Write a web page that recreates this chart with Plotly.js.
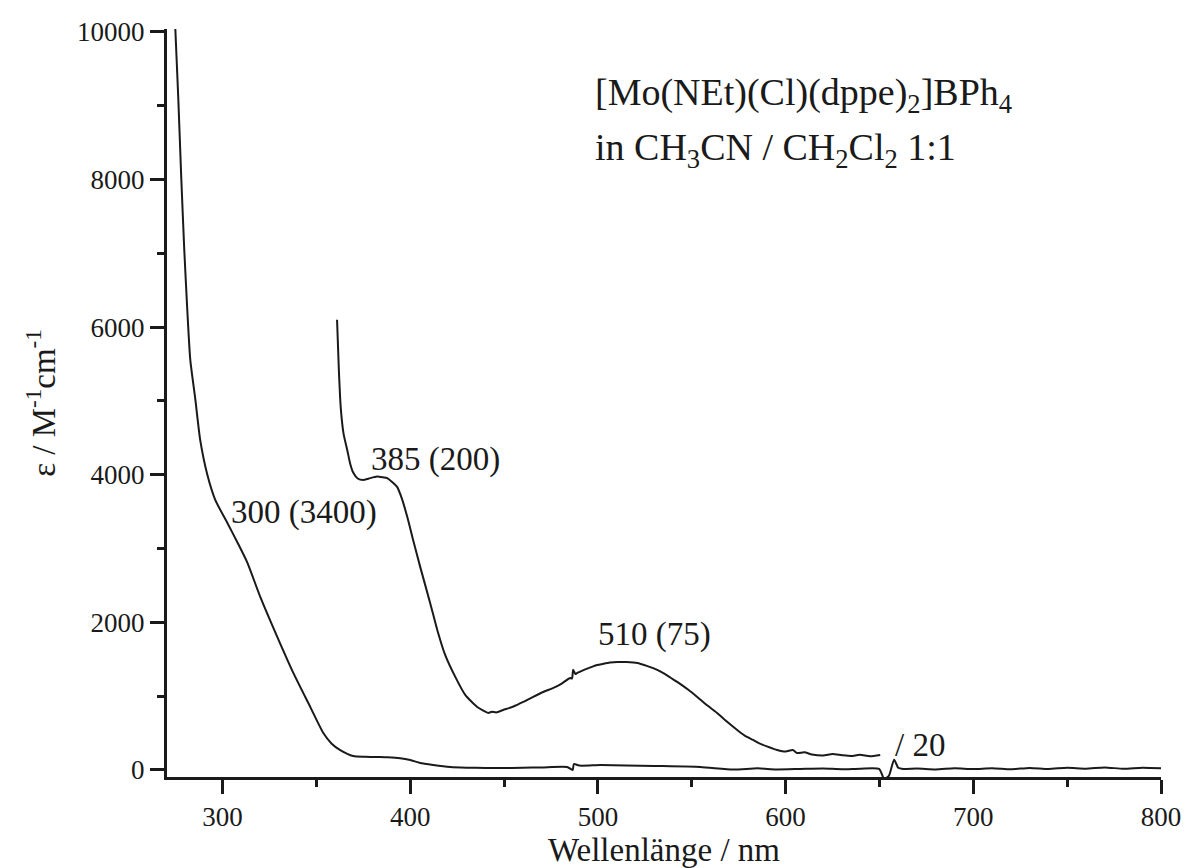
<!DOCTYPE html>
<html>
<head>
<meta charset="utf-8">
<script src="https://cdn.plot.ly/plotly-3.0.1.min.js"></script>
<style>html,body{margin:0;padding:0;background:#fff;}#chart{width:1186px;height:868px;}</style>
</head>
<body>
<div id="chart"></div>
<script>
// Full spectrum
const wl1 = [274.8, 276.4, 278.0, 279.6, 281.2, 282.8, 285.5, 288.1, 291.9, 296.1, 302.5, 308, 313.2, 320.1, 329.2, 337.7, 346.7, 353.7, 358, 362.7, 369.6, 376, 382.4, 388, 394.6, 400, 405.3, 412.3, 421.3, 430, 440, 447.9, 460, 470, 483.6, 486.5, 487.2, 490, 501.3, 515, 530, 554.5, 572.1, 585, 595, 607.8, 620, 630, 640, 649.8, 652.5, 655, 657.8, 660, 662.6, 670, 680, 690, 700, 710, 720, 730, 740, 750, 760, 770, 780, 790, 800];
const eps1 = [10060, 9110, 8025, 7050, 6240, 5560, 5020, 4470, 4000, 3660, 3350, 3080, 2810, 2345, 1800, 1315, 855, 500, 360, 270, 190, 180, 176, 172, 160, 135, 95, 68, 41, 32, 28, 27, 30, 35, 41, 0, 81, 60, 66, 62, 55, 41, 5, 22, 8, 14, 20, 10, 18, 14, -120, -80, 140, 30, 14, 20, 8, 22, 12, 25, 10, 28, 14, 30, 18, 35, 16, 30, 22];
// Magnified (x20) spectrum
const wl2 = [361.0, 362.0, 363.0, 364.5, 366.4, 368, 369.6, 372, 374.9, 378, 382.4, 385.5, 387.7, 390.5, 393.0, 395.5, 398.4, 401.5, 405.3, 410.6, 414.4, 418.6, 424.0, 429.3, 435.7, 441.5, 443.5, 445.8, 449.5, 455, 460.2, 465, 470.8, 476, 480, 485.2, 486.2, 486.8, 488, 489.0, 492, 495, 499.6, 503, 506.4, 510.3, 515, 521.0, 526, 531.6, 537, 542.2, 548, 552.9, 558, 563.5, 569, 574.2, 578, 582.7, 586, 590, 595.5, 600, 603.8, 606.1, 610, 614, 620.0, 625, 630, 635, 639.5, 645, 650.4];
const eps2 = [6100, 5400, 4900, 4550, 4340, 4150, 4030, 3950, 3930, 3950, 3975, 3965, 3955, 3900, 3836, 3680, 3430, 3120, 2752, 2264, 1898, 1559, 1261, 1017, 854, 773, 790, 780, 813, 860, 922, 985, 1057, 1110, 1160, 1247, 1240, 1360, 1300, 1315, 1350, 1380, 1423, 1440, 1455, 1464, 1462, 1450, 1410, 1356, 1280, 1193, 1090, 990, 880, 773, 650, 542, 470, 407, 360, 320, 271, 250, 271, 230, 240, 210, 195, 215, 200, 190, 205, 185, 203];

const xTickVals = [300, 400, 500, 600, 700, 800];
const yTickVals = [0, 2000, 4000, 6000, 8000, 10000];

const labels = [
  {x: 303.2, y: 3484, text: '300 (3400)'},
  {x: 378.2, y: 4202, text: '385 (200)'},
  {x: 499.2, y: 1830, text: '510 (75)'},
  {x: 657.4, y: 339, text: '/ 20'}
];
const titleLines = [
  {x: 497.5, y: 9150, text: '[Mo(NEt)(Cl)(dppe)<sub>2</sub>]BPh<sub>4</sub>'},
  {x: 497.5, y: 8404, text: 'in CH<sub>3</sub>CN / CH<sub>2</sub>Cl<sub>2</sub> 1:1'}
];

const FONT = '"Liberation Serif", "DejaVu Serif", serif';
const INK = '#1a1a1a';

const traces = [
  {x: wl1, y: eps1, type: 'scatter', mode: 'lines', line: {color: INK, width: 2, shape: 'spline', smoothing: 0.6}, showlegend: false, hoverinfo: 'skip'},
  {x: wl2, y: eps2, type: 'scatter', mode: 'lines', line: {color: INK, width: 2, shape: 'spline', smoothing: 0.6}, showlegend: false, hoverinfo: 'skip'}
];

const annotations = labels.map(l => ({
  x: l.x, y: l.y, xref: 'x', yref: 'y', text: l.text, showarrow: false,
  xanchor: 'left', yanchor: 'middle', font: {family: FONT, size: 33, color: INK}
})).concat(titleLines.map(l => ({
  x: l.x, y: l.y, xref: 'x', yref: 'y', text: l.text, showarrow: false,
  xanchor: 'left', yanchor: 'middle', font: {family: FONT, size: 38, color: INK}
})));

const layout = {
  width: 1186, height: 868,
  margin: {l: 167, r: 25, t: 29, b: 91},
  paper_bgcolor: '#fff', plot_bgcolor: '#fff',
  font: {family: FONT, color: INK},
  xaxis: {
    range: [270.4, 800], showgrid: false, zeroline: false,
    showline: true, linecolor: INK, linewidth: 3,
    ticks: 'outside', ticklen: 14, tickwidth: 3, tickcolor: INK,
    tickvals: xTickVals, ticktext: xTickVals.map(String),
    tickfont: {family: FONT, size: 27, color: INK},
    minor: {ticks: 'outside', ticklen: 7, tickwidth: 3, tickcolor: INK, dtick: 50, tick0: 0, showgrid: false},
    title: {text: 'Wellenlänge / nm', font: {family: FONT, size: 33, color: INK}, standoff: 0}
  },
  yaxis: {
    range: [-95, 10040], showgrid: false, zeroline: false,
    showline: true, linecolor: INK, linewidth: 3,
    ticks: 'outside', ticklen: 14, tickwidth: 3, tickcolor: INK,
    tickvals: yTickVals, ticktext: yTickVals.map(String),
    tickfont: {family: FONT, size: 27, color: INK},
    minor: {ticks: 'outside', ticklen: 7, tickwidth: 3, tickcolor: INK, dtick: 1000, tick0: 0, showgrid: false},
    title: {text: 'ε / M<sup>-1</sup>cm<sup>-1</sup>', font: {family: FONT, size: 33, color: INK}, standoff: 12}
  },
  annotations: annotations
};

Plotly.newPlot('chart', traces, layout, {staticPlot: true, displayModeBar: false});
</script>
</body>
</html>
